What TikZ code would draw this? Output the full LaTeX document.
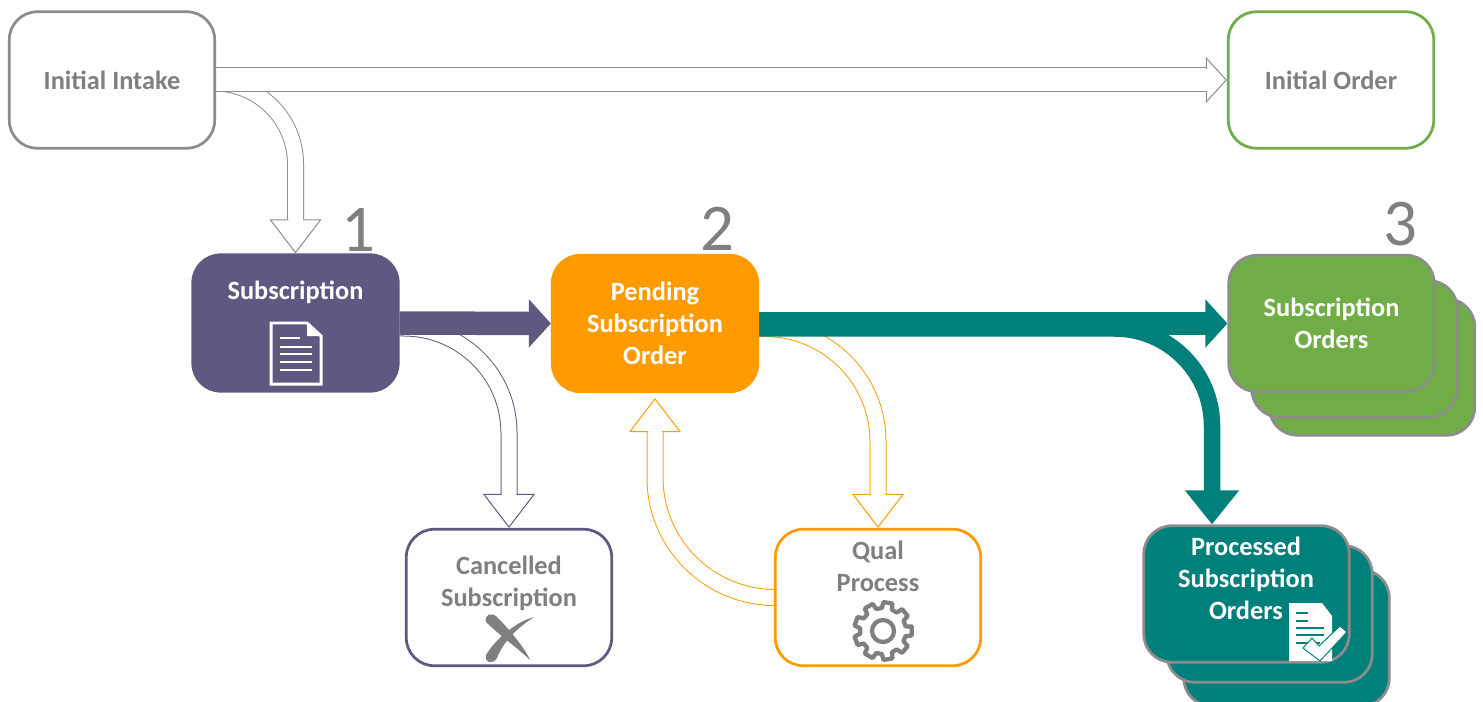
\documentclass[tikz,border=0pt]{standalone}
\usepackage{fontspec}
\setmainfont{Carlito}
\usetikzlibrary{arrows.meta,backgrounds}

\definecolor{grayline}{HTML}{8C8C8C}
\definecolor{graytext}{HTML}{7F7F7F}
\definecolor{purplebox}{HTML}{615882}
\definecolor{orangebox}{HTML}{FF9A00}
\definecolor{tealbox}{HTML}{00807A}
\definecolor{greenbox}{HTML}{70AD47}

\tikzset{
	box/.style={draw=#1,line width=0.055cm,rounded corners=0.56cm,minimum width=4.11cm,minimum height=2.73cm,inner sep=0pt,align=center,fill=white,text=graytext,font=\fontsize{15}{18.2}\selectfont\bfseries},
	solidbox/.style={box=#1,fill=#1,text=white},
	stackbox/.style={box=grayline,fill=#1,text=white},
	boxtext/.style={align=center,text=#1,font=\fontsize{15}{18.2}\selectfont\bfseries},
	stepnum/.style={text=graytext,font=\fontsize{38}{38}\selectfont},
	hollow/.style={draw=#1,line width=0.02cm,double=white,double distance=0.3cm,-{Triangle[fill=white,length=0.68cm,width=1.04cm,line width=0.02cm]},postaction={draw=white,line width=0.29cm,-,shorten >=0.65cm}},
	hollowstraight/.style={draw=#1,line width=0.02cm,double=white,double distance=0.46cm,-{Triangle[fill=white,length=0.42cm,width=0.92cm,line width=0.02cm]},postaction={draw=white,line width=0.45cm,-,shorten >=0.39cm}},
	solidarrow/.style={draw=#1,line width=0.47cm,-{Triangle[length=0.44cm,width=0.94cm]}},
	curvearrow/.style={draw=#1,line width=0.33cm,-{Triangle[length=0.68cm,width=1.04cm]}},
}

\begin{document}
\begin{tikzpicture}[x=0.02cm,y=-0.02cm]
	\useasboundingbox (0,0) rectangle (1483,702);
	\clip (0,0) rectangle (1483,702);

	% top row
	\node[box=grayline] (intake) at (112,80) {Initial Intake};
	\node[box=greenbox] (order) at (1331,80) {Initial Order};

	% middle row
	\node[solidbox=purplebox] (sub) at (295.5,323) {};
	\node[boxtext=white] (subtext) at (295.5,292.5) {Subscription};
	\node[solidbox=orangebox] (pending) at (655,323.5) {Pending\\Subscription\\Order};
	\node[stackbox=greenbox] (ordersback) at (1372,367) {};
	\node[stackbox=greenbox] (ordersmid) at (1354.5,349) {};
	\node[stackbox=greenbox] (orders) at (1331.5,323.5) {Subscription\\Orders};

	% bottom row
	\node[box=purplebox] (cancel) at (509,597.5) {};
	\node[boxtext=graytext] (canceltext) at (509,583.5) {Cancelled\\Subscription};
	\node[box=orangebox] (qual) at (878,597.5) {};
	\node[boxtext=graytext] (qualtext) at (878,566.5) {Qual\\Process};
	\node[stackbox=tealbox] (doneback) at (1286.5,638) {};
	\node[stackbox=tealbox] (donemid) at (1269.5,614) {};
	\node[stackbox=tealbox] (done) at (1246.5,594) {};
	\node[boxtext=white] (donetext) at (1246,578) {Processed\\Subscription\\Orders};

	% numbers
	\node[stepnum] (one) at (358,230) {1};
	\node[stepnum] (two) at (717,229) {2};
	\node[stepnum] (three) at (1400,224) {3};

	% connectors
	\begin{scope}[on background layer]
		\draw[hollow=grayline,rounded corners=1.62cm] ([yshift=-0.06cm]intake.east) -| (sub.north);
		\draw[hollowstraight=grayline] (intake.east) -- (order.west);
		\draw[hollow=purplebox,rounded corners=2.1cm] ([yshift=-0.1cm]sub.east) -| (cancel.north);
		\draw[solidarrow=purplebox] (sub.east) -- (pending.west);
		\draw[hollow=orangebox,rounded corners=2.26cm] ([yshift=-0.1cm]pending.east) -| (qual.north);
		\draw[hollow=orangebox,rounded corners=2.4cm,shorten >=0.1cm] (qual.west) -| (pending.south);
		\draw[curvearrow=tealbox,rounded corners=1.95cm] ([yshift=-0.1cm]pending.east) -| (done.north -| 1212,0);
		\draw[solidarrow=tealbox] (pending.east) -- (orders.west);
	\end{scope}

	% document icon
	\draw[white,line width=0.06cm,line join=miter] (271,323) -- (307,323) -- (321,336) -- (321,384) -- (271,384) -- cycle;
	\fill[white] (307,323) -- (321,336) -- (307,336) -- cycle;
	\draw[white,line width=0.035cm] (280,338) -- (300,338);
	\foreach \y in {347,354,362,370}
		\draw[white,line width=0.035cm] (280,\y) -- (312,\y);

	% cross icon
	\fill[graytext] (534,617) .. controls (515,622) and (495,640) .. (486,655) .. controls (484,663) and (493,665) .. (497,658) .. controls (503,642) and (517,628) .. (534,617) -- cycle;
	\fill[graytext] (486,622) .. controls (484,614) and (492,612) .. (497,617) .. controls (508,628) and (525,648) .. (530,660) .. controls (520,650) and (498,634) .. (486,622) -- cycle;

	% gear icon
	\begin{scope}[shift={(883,631)}]
		\draw[graytext,line width=0.085cm,line join=round] (-11:23)
			\foreach \a in {0,40,...,320} {
				-- (\a-9:29) -- (\a+9:29) -- (\a+13:23) -- (\a+27:23)
			} -- cycle;
		\draw[graytext,line width=0.085cm] (0,0) circle (0.22cm);
	\end{scope}

	% document with tick
	\fill[white] (1289,603) -- (1322,603) -- (1332,616) -- (1332,661) -- (1289,661) -- cycle;
	\draw[tealbox,line width=0.03cm] (1296,613) -- (1308,613);
	\draw[tealbox,line width=0.03cm] (1296,621) -- (1308,621);
	\foreach \y in {628,635}
		\draw[tealbox,line width=0.03cm] (1296,\y) -- (1324,\y);
	\draw[tealbox,line width=0.03cm] (1296,643) -- (1320,643);
	\filldraw[fill=white,draw=tealbox,line width=0.02cm,line join=miter] (1303,648) -- (1312,638) -- (1319,646) -- (1340,626) -- (1347,632) -- (1320,661) -- cycle;
\end{tikzpicture}
\end{document}
